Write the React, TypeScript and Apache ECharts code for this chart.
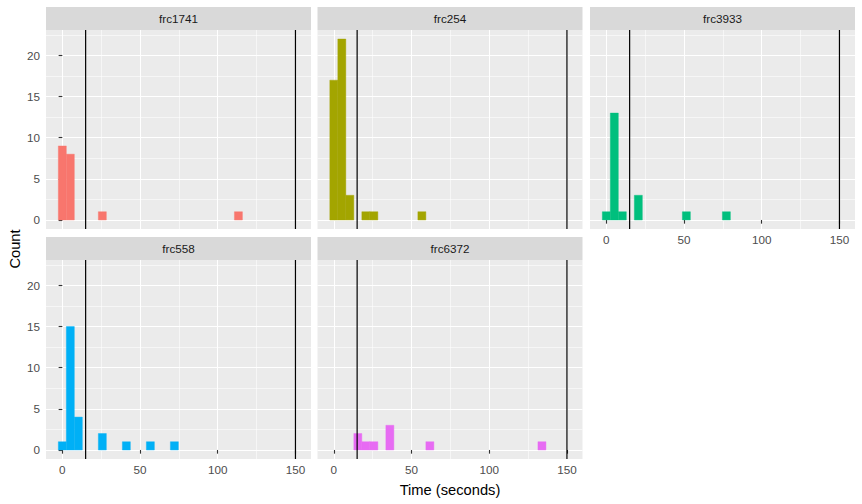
import React, { useEffect, useRef } from "react";
import * as echarts from "echarts";

// ---- data ----
const BIN_WIDTH = 5.15;
const panelNames = ["frc1741", "frc254", "frc3933", "frc558", "frc6372"];
const frc1741Centers = [0, 5.15, 25.75, 113.3];
const frc1741Counts = [9, 8, 1, 1];
const frc254Centers = [0, 5.15, 10.3, 20.6, 25.75, 56.65];
const frc254Counts = [17, 22, 3, 1, 1, 1];
const frc3933Centers = [0, 5.15, 10.3, 20.6, 51.5, 77.25];
const frc3933Counts = [1, 13, 1, 3, 1, 1];
const frc558Centers = [0, 5.15, 10.3, 25.75, 41.2, 56.65, 72.1];
const frc558Counts = [1, 15, 4, 2, 1, 1, 1];
const frc6372Centers = [15.45, 20.6, 25.75, 36.05, 61.8, 133.9];
const frc6372Counts = [2, 1, 1, 3, 1, 1];
const vlineValues = [15, 150];
const xMajorTicks = [0, 50, 100, 150];
const xMinorTicks = [25, 75, 125];
const yMajorTicks = [0, 5, 10, 15, 20];
const yMinorTicks = [2.5, 7.5, 12.5, 17.5, 22.5];
const panelColors = ["#F8766D", "#A3A500", "#00BF7D", "#00B0F6", "#E76BF3"];

const panelCenters = [frc1741Centers, frc254Centers, frc3933Centers, frc558Centers, frc6372Centers];
const panelCounts = [frc1741Counts, frc254Counts, frc3933Counts, frc558Counts, frc6372Counts];

// ---- layout ----
const X_MIN = -10.5;
const X_MAX = 160;
const Y_MIN = -1.1;
const Y_MAX = 23.1;
const COL_LEFT = [46, 317.5, 590];
const PANEL_W = 265;
const ROW_TOP = [30, 260];
const PANEL_H = 199;
const STRIP_H = 23;
const FONT = "'Liberation Sans', Arial, sans-serif";

export default function App() {
  const ref = useRef<HTMLDivElement>(null);
  useEffect(() => {
    if (!ref.current) return;
    const chart = echarts.init(ref.current, null, { renderer: "svg" });

    const grids: any[] = [];
    const xAxes: any[] = [];
    const yAxes: any[] = [];
    const series: any[] = [];
    const graphics: any[] = [];

    panelNames.forEach((name, i) => {
      const col = i % 3;
      const row = Math.floor(i / 3);
      const left = COL_LEFT[col];
      const top = ROW_TOP[row];
      grids.push({
        left,
        top,
        width: PANEL_W,
        height: PANEL_H,
        show: true,
        backgroundColor: "#EBEBEB",
        borderWidth: 0,
        outerBoundsMode: "none",
        containLabel: false,
      });
      const showX = i >= 2;
      const showY = col === 0;
      xAxes.push({
        type: "value",
        gridIndex: i,
        min: X_MIN,
        max: X_MAX,
        position: "bottom",
        axisLine: { show: false },
        axisTick: {
          show: showX,
          length: 3.7,
          customValues: xMajorTicks,
          lineStyle: { color: "#333333", width: 1.1 },
        },
        axisLabel: {
          show: showX,
          customValues: xMajorTicks,
          color: "#4D4D4D",
          fontSize: 11.7,
          fontFamily: FONT,
          margin: 4,
        },
        splitLine: { show: true, lineStyle: { color: "#FFFFFF", width: 1.1 } },
      });
      xAxes.push({
        type: "value",
        gridIndex: i,
        min: X_MIN,
        max: X_MAX,
        position: "top",
        axisLine: { show: false },
        axisTick: { show: false, customValues: xMinorTicks },
        axisLabel: { show: false, customValues: xMinorTicks },
        splitLine: { show: true, lineStyle: { color: "#FFFFFF", width: 0.55 } },
      });
      yAxes.push({
        type: "value",
        gridIndex: i,
        min: Y_MIN,
        max: Y_MAX,
        position: "left",
        axisLine: { show: false },
        axisTick: {
          show: showY,
          length: 3.7,
          customValues: yMajorTicks,
          lineStyle: { color: "#333333", width: 1.1 },
        },
        axisLabel: {
          show: showY,
          customValues: yMajorTicks,
          color: "#4D4D4D",
          fontSize: 11.7,
          fontFamily: FONT,
          margin: 6,
        },
        splitLine: { show: true, lineStyle: { color: "#FFFFFF", width: 1.1 } },
      });
      yAxes.push({
        type: "value",
        gridIndex: i,
        min: Y_MIN,
        max: Y_MAX,
        position: "right",
        axisLine: { show: false },
        axisTick: { show: false, customValues: yMinorTicks },
        axisLabel: { show: false, customValues: yMinorTicks },
        splitLine: { show: true, lineStyle: { color: "#FFFFFF", width: 0.55 } },
      });

      const color = panelColors[i];
      series.push({
        type: "custom",
        name,
        xAxisIndex: 2 * i,
        yAxisIndex: 2 * i,
        z: 2,
        silent: true,
        data: panelCenters[i].map((c, j) => [c - BIN_WIDTH / 2, c + BIN_WIDTH / 2, panelCounts[i][j]]),
        encode: { x: [0, 1], y: 2 },
        renderItem: (params: any, api: any) => {
          const p0 = api.coord([api.value(0), 0]);
          const p1 = api.coord([api.value(1), api.value(2)]);
          return {
            type: "rect",
            shape: { x: p0[0], y: p1[1], width: p1[0] - p0[0], height: p0[1] - p1[1] },
            style: { fill: color, stroke: color, lineWidth: 0.4 },
          };
        },
      });
      series.push({
        type: "custom",
        xAxisIndex: 2 * i,
        yAxisIndex: 2 * i,
        z: 3,
        silent: true,
        data: vlineValues.map((v) => [v, 0]),
        encode: { x: 0, y: 1 },
        renderItem: (params: any, api: any) => {
          const x = api.coord([api.value(0), 0])[0];
          const cs = params.coordSys;
          return {
            type: "line",
            shape: { x1: x, y1: cs.y, x2: x, y2: cs.y + cs.height },
            style: { stroke: "#000000", lineWidth: 1.2 },
          };
        },
      });

      graphics.push({
        type: "rect",
        shape: { x: left, y: top - STRIP_H, width: PANEL_W, height: STRIP_H },
        style: { fill: "#D9D9D9" },
        silent: true,
      });
      graphics.push({
        type: "text",
        x: left + PANEL_W / 2,
        y: top - STRIP_H / 2,
        silent: true,
        style: {
          text: name,
          fill: "#1A1A1A",
          fontSize: 11.7,
          fontFamily: FONT,
          align: "center",
          verticalAlign: "middle",
        },
      });
    });

    graphics.push({
      type: "text",
      x: 450,
      y: 490,
      silent: true,
      style: {
        text: "Time (seconds)",
        fill: "#000000",
        fontSize: 14.7,
        fontFamily: FONT,
        align: "center",
        verticalAlign: "middle",
      },
    });
    graphics.push({
      type: "text",
      x: 15,
      y: 249,
      rotation: Math.PI / 2,
      silent: true,
      style: {
        text: "Count",
        fill: "#000000",
        fontSize: 14.7,
        fontFamily: FONT,
        align: "center",
        verticalAlign: "middle",
      },
    });

    chart.setOption({
      animation: false,
      backgroundColor: "#FFFFFF",
      grid: grids,
      xAxis: xAxes,
      yAxis: yAxes,
      series,
      graphic: graphics,
    });
    return () => chart.dispose();
  }, []);

  return (
    <div
      ref={ref}
      style={{ position: "fixed", left: 0, top: 0, width: 862, height: 504, background: "#fff" }}
    />
  );
}
